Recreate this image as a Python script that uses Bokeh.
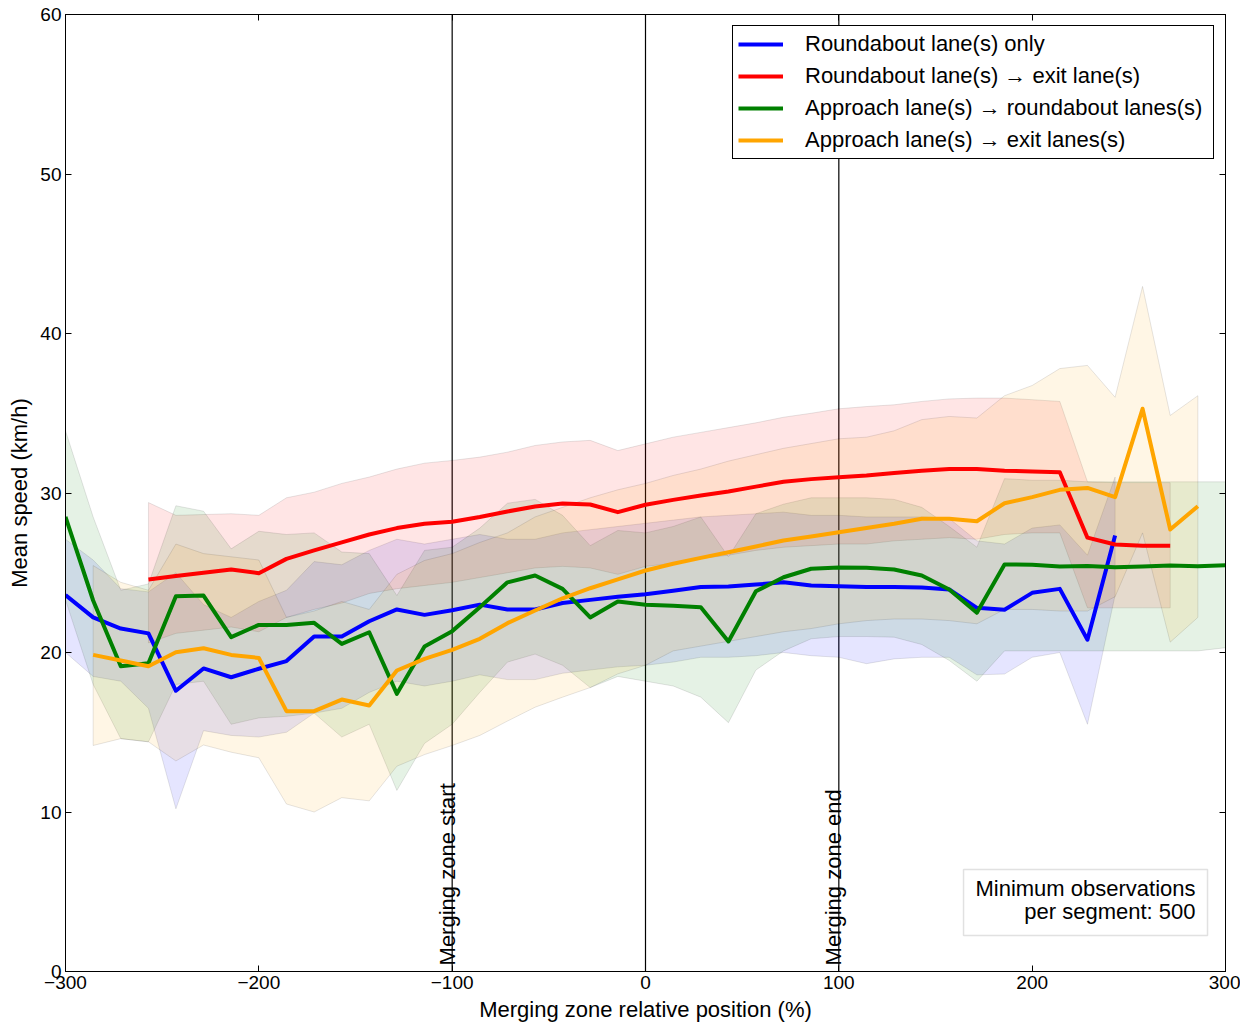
from math import pi
from bokeh.plotting import figure
from bokeh.models import (Span, Label, BoxAnnotation, Legend, LegendItem, FixedTicker,
                          CustomJSTickFormatter, LinearAxis, Range1d)
from bokeh.embed import file_html
from bokeh.resources import INLINE

# ---------------- data ----------------
x_pos = [-300.0, -285.7, -271.4, -257.1, -242.9, -228.6, -214.3, -200.0, -185.7, -171.4,
         -157.1, -142.9, -128.6, -114.3, -100.0, -85.7, -71.4, -57.1, -42.9, -28.6,
         -14.3, 0.0, 14.3, 28.6, 42.9, 57.1, 71.4, 85.7, 100.0, 114.3,
         128.6, 142.9, 157.1, 171.4, 185.7, 200.0, 214.3, 228.6, 242.9, 257.1,
         271.4, 285.7, 300.0]

labels = ["Roundabout lane(s) only",
          "Roundabout lane(s) \u2192 exit lane(s)",
          "Approach lane(s) \u2192 roundabout lanes(s)",
          "Approach lane(s) \u2192 exit lanes(s)"]
colors = ["#0000ff", "#ff0000", "#008000", "#ffa500"]

# Roundabout lane(s) only  (x_pos[0:39])
blue_x = x_pos[0:39]
blue_mean = [23.6, 22.2, 21.5, 21.2, 17.6, 19.0, 18.45, 18.98, 19.46, 21.0, 21.0, 21.96, 22.7,
             22.36, 22.65, 23.0, 22.7, 22.7, 23.1, 23.3, 23.5, 23.65, 23.87, 24.1, 24.14, 24.26,
             24.4, 24.2, 24.16, 24.1, 24.1, 24.07, 23.95, 22.8, 22.68, 23.74, 23.99, 20.8, 27.33]
blue_up = [27.1, 25.8, 24.0, 23.8, 25.0, 23.0, 22.2, 23.2, 23.9, 25.7, 25.5, 26.4, 27.1, 26.8,
           27.1, 27.4, 27.1, 27.1, 27.5, 27.7, 27.9, 28.1, 28.3, 28.5, 28.6, 28.7, 28.8, 28.6,
           28.6, 28.5, 28.5, 28.5, 28.4, 27.0, 26.8, 27.8, 28.0, 26.1, 31.0]
blue_lo = [20.0, 18.5, 18.2, 16.5, 10.2, 15.1, 14.8, 14.7, 15.0, 16.2, 16.5, 17.5, 18.2, 17.9,
           18.2, 18.6, 18.3, 18.3, 18.7, 18.9, 19.1, 19.2, 19.4, 19.7, 19.7, 19.8, 20.0, 19.8,
           19.7, 19.3, 19.6, 19.7, 19.7, 18.6, 18.65, 19.7, 20.0, 15.5, 23.6]

# Roundabout lane(s) -> exit lane(s)  (x_pos[3:41])
red_x = x_pos[3:41]
red_mean = [24.58, 24.79, 25.0, 25.2, 24.97, 25.87, 26.4, 26.9, 27.4, 27.8, 28.07, 28.2, 28.5,
            28.84, 29.15, 29.34, 29.28, 28.8, 29.26, 29.57, 29.84, 30.1, 30.4, 30.7, 30.87,
            30.99, 31.1, 31.26, 31.4, 31.5, 31.5, 31.4, 31.35, 31.3, 27.2, 26.77, 26.7, 26.69]
red_up = [29.4, 28.6, 28.65, 28.7, 28.6, 29.7, 30.05, 30.6, 31.0, 31.5, 31.87, 32.04, 32.25,
          32.56, 32.98, 33.2, 33.3, 32.66, 33.08, 33.5, 33.8, 34.1, 34.4, 34.75, 35.0, 35.28,
          35.42, 35.53, 35.74, 35.9, 35.95, 35.95, 35.85, 35.74, 30.7, 30.65, 30.65, 30.65]
red_lo = [20.6, 21.2, 21.4, 21.6, 21.3, 22.2, 22.7, 23.1, 23.7, 24.0, 24.2, 24.4, 24.7, 25.0,
          25.3, 25.4, 25.3, 24.9, 25.4, 25.6, 25.9, 26.1, 26.4, 26.6, 26.7, 26.8, 26.8, 27.0,
          27.1, 27.2, 27.1, 27.4, 27.5, 27.5, 22.8, 22.8, 22.8, 22.8]

# Approach lane(s) -> roundabout lanes(s)  (x_pos[0:43])
green_x = x_pos[0:43]
green_mean = [28.5, 23.26, 19.14, 19.33, 23.53, 23.57, 20.96, 21.73, 21.73, 21.86, 20.54, 21.27,
              17.41, 20.38, 21.34, 22.84, 24.4, 24.83, 23.99, 22.2, 23.2, 22.99, 22.93, 22.84,
              20.69, 23.84, 24.72, 25.25, 25.33, 25.31, 25.2, 24.83, 23.95, 22.49, 25.52, 25.5,
              25.39, 25.43, 25.35, 25.39, 25.45, 25.41, 25.47]
green_up = [33.9, 28.5, 23.9, 24.3, 29.2, 28.86, 26.5, 27.6, 27.4, 27.5, 26.3, 26.2, 23.57, 26.4,
            26.6, 27.8, 29.36, 29.6, 28.6, 26.7, 27.65, 27.5, 27.9, 28.5, 26.0, 28.7, 29.3, 29.7,
            29.7, 29.7, 29.6, 29.1, 27.9, 26.6, 30.9, 30.8, 30.8, 30.7, 30.7, 30.7, 30.7, 30.7,
            30.7]
green_lo = [23.3, 18.0, 14.6, 14.4, 18.0, 18.2, 15.5, 15.9, 16.0, 16.2, 14.7, 15.5, 11.35, 14.3,
            15.5, 17.5, 19.4, 19.9, 19.2, 17.8, 18.5, 18.2, 17.9, 17.2, 15.6, 18.9, 20.1, 20.86,
            21.0, 21.0, 20.96, 20.5, 19.5, 18.2, 20.1, 20.1, 20.1, 20.1, 20.1, 20.1, 20.1, 20.1,
            20.3]

# Approach lane(s) -> exit lanes(s)  (x_pos[1:42])
orange_x = x_pos[1:42]
orange_mean = [19.85, 19.5, 19.14, 20.02, 20.27, 19.85, 19.66, 16.32, 16.32, 17.05, 16.68, 18.87,
               19.6, 20.17, 20.86, 21.84, 22.63, 23.4, 24.03, 24.58, 25.14, 25.56, 25.93, 26.29,
               26.65, 27.02, 27.27, 27.54, 27.8, 28.07, 28.38, 28.38, 28.23, 29.36, 29.74, 30.2,
               30.32, 29.74, 35.28, 27.71, 29.17]
orange_up = [25.45, 24.4, 23.9, 26.8, 26.2, 26.0, 25.8, 22.2, 22.6, 23.2, 22.7, 24.9, 25.77, 26.2,
             26.9, 27.5, 28.5, 29.1, 29.7, 30.2, 30.6, 31.1, 31.5, 32.0, 32.4, 32.8, 33.1, 33.4,
             33.5, 33.9, 34.6, 34.8, 34.7, 36.1, 36.74, 37.8, 38.0, 36.0, 42.95, 34.86, 36.1]
orange_lo = [14.17, 14.6, 14.4, 13.2, 14.2, 13.75, 13.4, 10.5, 10.0, 10.9, 10.7, 12.87, 13.6, 14.17,
             14.8, 15.7, 16.57, 17.2, 17.8, 18.66, 19.2, 20.1, 20.4, 20.7, 21.0, 21.3, 21.5, 21.8,
             22.0, 22.1, 22.1, 22.0, 21.8, 22.7, 22.7, 22.6, 22.6, 23.5, 27.5, 20.65, 22.2]

x_ticks = [-300, -200, -100, 0, 100, 200, 300]
y_ticks = [0, 10, 20, 30, 40, 50, 60]
zone_lines = [-100, 0, 100]
zone_texts = [(-100, "Merging zone start"), (100, "Merging zone end")]
note_lines = ["Minimum observations", "per segment: 500"]

FONT = "Liberation Sans"

# ---------------- figure ----------------
p = figure(width=1240, height=1024, x_range=Range1d(-300, 300), y_range=Range1d(0, 60),
           output_backend="svg", toolbar_location=None,
           min_border_left=65, min_border_right=15, min_border_top=14, min_border_bottom=53)
p.grid.visible = False
p.outline_line_color = "black"
p.outline_line_alpha = 1.0
p.outline_line_width = 1
p.background_fill_color = "white"
p.border_fill_color = "white"

fmt = CustomJSTickFormatter(code="return tick < 0 ? '\u2212' + (-tick) : '' + tick;")
blank_fmt = CustomJSTickFormatter(code="return '';")

def style_axis(ax, ticks, show_labels=True):
    ax.ticker = FixedTicker(ticks=ticks)
    ax.minor_tick_line_color = None
    ax.major_tick_in = 6
    ax.major_tick_out = 0
    ax.major_tick_line_color = "black"
    ax.axis_line_color = "black"
    ax.major_label_text_font = FONT
    ax.major_label_text_color = "black"
    ax.major_label_text_font_size = "19px"
    if show_labels:
        ax.formatter = fmt
        ax.major_label_standoff = 4
    else:
        ax.formatter = blank_fmt
        ax.major_label_standoff = 0

style_axis(p.xaxis[0], x_ticks)
style_axis(p.yaxis[0], y_ticks)
p.xaxis.axis_label = "Merging zone relative position (%)"
p.yaxis.axis_label = "Mean speed (km/h)"
for ax in (p.xaxis[0], p.yaxis[0]):
    ax.axis_label_text_font = FONT
    ax.axis_label_text_font_size = "22px"
    ax.axis_label_text_font_style = "normal"
    ax.axis_label_text_color = "black"
p.xaxis.axis_label_standoff = 5
p.yaxis.axis_label_standoff = 5

top_ax = LinearAxis()
style_axis(top_ax, x_ticks, show_labels=False)
p.add_layout(top_ax, "above")
right_ax = LinearAxis()
style_axis(right_ax, y_ticks, show_labels=False)
p.add_layout(right_ax, "right")

# vertical zone lines
for loc in zone_lines:
    p.add_layout(Span(location=loc, dimension="height", line_color="black",
                      line_width=1.2, level="underlay"))

# bands
series = [
    (blue_x, blue_mean, blue_up, blue_lo),
    (red_x, red_mean, red_up, red_lo),
    (green_x, green_mean, green_up, green_lo),
    (orange_x, orange_mean, orange_up, orange_lo),
]
for (xs, m, up, lo), c in zip(series, colors):
    p.patch(x=list(xs) + list(xs)[::-1], y=list(up) + list(lo)[::-1],
            fill_color=c, fill_alpha=0.1, line_color="black", line_alpha=0.1, line_width=1)

# mean lines
renderers = []
for (xs, m, up, lo), c in zip(series, colors):
    r = p.line(x=xs, y=m, line_color=c, line_width=4, line_join="round")
    renderers.append(r)

# zone texts
for xloc, txt in zone_texts:
    p.add_layout(Label(x=xloc, y=0.38, x_offset=-5, text=txt, angle=pi / 2, text_align="left",
                       text_baseline="alphabetic", text_font=FONT, text_font_size="22px",
                       text_color="black"))

# note box
p.add_layout(BoxAnnotation(left=164.5, right=290.7, bottom=2.26, top=6.39,
                           fill_color="white", fill_alpha=1.0,
                           line_color="#9a9a9a", line_width=1.5, level="annotation"))
p.add_layout(Label(x=284.5, y=5.20, text=note_lines[0], text_align="right",
                   text_baseline="alphabetic", text_font=FONT, text_font_size="22px",
                   text_color="black"))
p.add_layout(Label(x=284.5, y=3.76, text=note_lines[1], text_align="right",
                   text_baseline="alphabetic", text_font=FONT, text_font_size="22px",
                   text_color="black"))

# legend
legend = Legend(items=[LegendItem(label=l, renderers=[r]) for l, r in zip(labels, renderers)],
                location="top_right", margin=11, padding=5, spacing=6,
                glyph_width=45, glyph_height=24, label_height=24, label_standoff=22,
                label_width=403,
                label_text_font=FONT, label_text_font_size="22px", label_text_color="black",
                border_line_color="black", border_line_width=1, border_line_alpha=1.0,
                background_fill_color="white", background_fill_alpha=1.0)
p.add_layout(legend)

open("out.html", "w", encoding="utf-8").write(file_html(p, INLINE))
